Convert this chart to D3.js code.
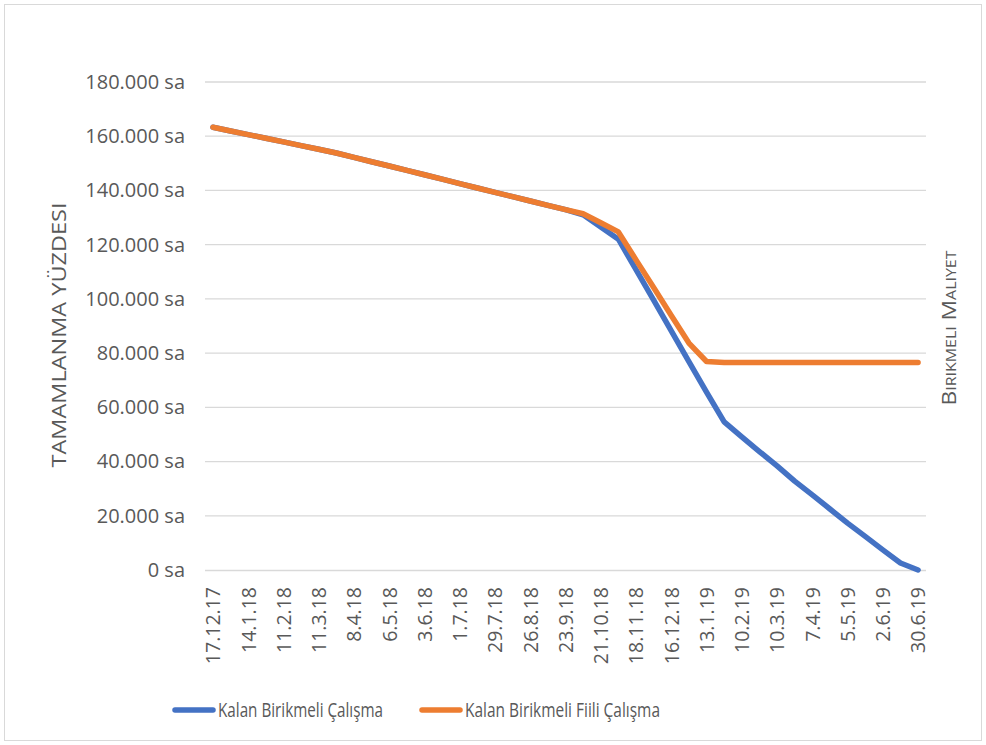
<!DOCTYPE html>
<html>
<head>
<meta charset="utf-8">
<script src="https://cdn.jsdelivr.net/npm/d3@7"></script>
<style>
  html, body { margin: 0; padding: 0; background: #fff; }
  svg { display: block; }
  text { fill: #595959; }
</style>
</head>
<body>
<svg id="chart" width="986" height="745"></svg>
<script>
// Biweekly reporting dates
const dates = [
  "17.12.17","31.12.17","14.1.18","28.1.18","11.2.18","25.2.18","11.3.18","25.3.18",
  "8.4.18","22.4.18","6.5.18","20.5.18","3.6.18","17.6.18","1.7.18","15.7.18",
  "29.7.18","12.8.18","26.8.18","9.9.18","23.9.18","7.10.18","21.10.18","4.11.18",
  "18.11.18","2.12.18","16.12.18","30.12.18","13.1.19","27.1.19","10.2.19","24.2.19",
  "10.3.19","24.3.19","7.4.19","21.4.19","5.5.19","19.5.19","2.6.19","16.6.19","30.6.19"
];

// Dates that carry a label on the category axis
const tickLabels = [
  "17.12.17","14.1.18","11.2.18","11.3.18","8.4.18","6.5.18","3.6.18","1.7.18",
  "29.7.18","26.8.18","23.9.18","21.10.18","18.11.18","16.12.18","13.1.19","10.2.19",
  "10.3.19","7.4.19","5.5.19","2.6.19","30.6.19"
];

// Remaining cumulative planned work (hours)
const kalanBirikmeli = [
  163300,161950,160600,159250,157900,156550,155200,153800,
  152200,150600,149000,147400,145800,144200,142500,140900,
  139300,137700,136100,134500,132900,131000,126500,122000,
  110800,99500,88200,76900,65600,54600,49100,43700,
  38400,32800,27700,22500,17300,12400,7400,2600,0
];

// Remaining cumulative actual work (hours)
const kalanFiili = [
  163300,161950,160600,159250,157900,156550,155200,153800,
  152200,150600,149000,147400,145800,144200,142500,140900,
  139300,137700,136100,134500,132900,131400,128100,124700,
  114400,104200,93900,83700,76900,76500,76500,76500,
  76500,76500,76500,76500,76500,76500,76500,76500,76500
];

const yTicks = [0,20000,40000,60000,80000,100000,120000,140000,160000,180000];

const seriesNames = ["Kalan Birikmeli Çalışma", "Kalan Birikmeli Fiili Çalışma"];
const seriesColors = ["#4472C4", "#ED7D31"];

const svg = d3.select("#chart");
const plotLeft = 205, plotRight = 926, plotTop = 82, plotBottom = 570;

// chart frame
svg.append("rect")
  .attr("x", 4.5).attr("y", 4.5).attr("width", 977).attr("height", 736)
  .attr("fill", "#fff").attr("stroke", "#d9d9d9").attr("stroke-width", 1);

const x = d3.scalePoint().domain(dates).range([plotLeft, plotRight]).padding(0.45);
const y = d3.scaleLinear().domain([0, 180000]).range([plotBottom, plotTop]);

const fmt = v => d3.format(",")(v).replace(/,/g, ".") + " sa";

// horizontal gridlines
svg.append("g").selectAll("line")
  .data(yTicks.filter(t => t > 0))
  .join("line")
  .attr("x1", plotLeft).attr("x2", plotRight)
  .attr("y1", d => y(d)).attr("y2", d => y(d))
  .attr("stroke", "#d9d9d9").attr("stroke-width", 1.3);

// value axis
const yAxis = svg.append("g")
  .attr("transform", `translate(${plotLeft - 20},0)`)
  .call(d3.axisLeft(y).tickValues(yTicks).tickFormat(fmt).tickSize(0).tickPadding(0));
yAxis.select(".domain").remove();
yAxis.selectAll("text")
  .attr("font-family", "'Open Sans', sans-serif")
  .attr("font-size", 20)
  .attr("fill", "#595959");

// category axis
const xAxis = svg.append("g")
  .attr("transform", `translate(0,${plotBottom})`)
  .call(d3.axisBottom(x).tickValues(tickLabels).tickSize(0).tickPadding(0));
xAxis.select(".domain")
  .attr("d", `M${plotLeft},0.5H${plotRight}`)
  .attr("stroke", "#d9d9d9").attr("stroke-width", 1.3);
xAxis.selectAll("text")
  .attr("font-family", "'Open Sans', sans-serif")
  .attr("font-size", 19.5)
  .attr("fill", "#595959")
  .attr("transform", "rotate(-90)")
  .attr("text-anchor", "end")
  .attr("x", -17)
  .attr("y", 0)
  .attr("dy", "0.35em");

// series lines
const line = d3.line()
  .x((d, i) => x(dates[i]))
  .y(d => y(d));

[kalanBirikmeli, kalanFiili].forEach((vals, k) => {
  svg.append("path")
    .datum(vals)
    .attr("d", line)
    .attr("fill", "none")
    .attr("stroke", seriesColors[k])
    .attr("stroke-width", 5.5)
    .attr("stroke-linejoin", "round")
    .attr("stroke-linecap", "round");
});

// axis titles
svg.append("text")
  .attr("transform", `translate(59,${335}) rotate(-90)`)
  .attr("text-anchor", "middle")
  .attr("dy", "0.35em")
  .attr("font-family", "'Open Sans', sans-serif")
  .attr("font-size", 19.5)
  .attr("textLength", 265)
  .attr("lengthAdjust", "spacingAndGlyphs")
  .text("TAMAMLANMA YÜZDESI");

svg.append("text")
  .attr("transform", `translate(949,${328}) rotate(-90)`)
  .attr("text-anchor", "middle")
  .attr("dy", "0.35em")
  .attr("font-family", "'Open Sans', sans-serif")
  .attr("font-size", 20)
  .attr("textLength", 155)
  .attr("lengthAdjust", "spacingAndGlyphs")
  .style("font-variant", "small-caps")
  .text("Birikmeli Maliyet");

// legend
const legendX = [173, 420];
const legendTextLen = [165, 195];
const legend = svg.append("g");
seriesNames.forEach((name, k) => {
  legend.append("line")
    .attr("x1", legendX[k] + 2).attr("x2", legendX[k] + 40)
    .attr("y1", 710).attr("y2", 710)
    .attr("stroke", seriesColors[k])
    .attr("stroke-width", 5.5)
    .attr("stroke-linecap", "round");
  legend.append("text")
    .attr("x", legendX[k] + 45)
    .attr("y", 710)
    .attr("dy", "0.35em")
    .attr("font-family", "'Open Sans', sans-serif")
    .attr("font-size", 20)
    .attr("textLength", legendTextLen[k])
    .attr("lengthAdjust", "spacingAndGlyphs")
    .text(name);
});
</script>
</body>
</html>
